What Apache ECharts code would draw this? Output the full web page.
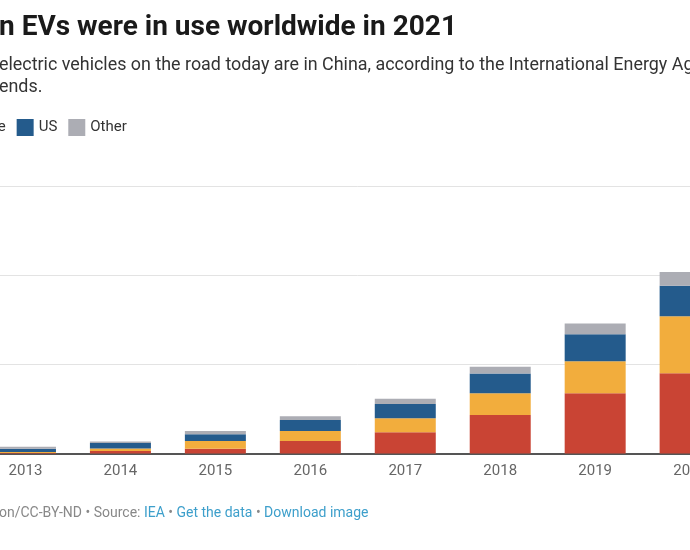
<!DOCTYPE html>
<html>
<head>
<meta charset="utf-8">
<script src="https://cdn.jsdelivr.net/npm/echarts@6/dist/echarts.min.js"></script>
<style>
html,body{margin:0;padding:0;width:690px;height:550px;overflow:hidden;background:#fff;}
#c{position:absolute;left:-200px;top:0;width:1000px;height:550px;}
</style>
</head>
<body>
<div id="c"></div>
<script>
// Data (millions of EVs)
const years = ['2013','2014','2015','2016','2017','2018','2019','2020'];
const china  = [0.03, 0.14, 0.27, 0.70, 1.19, 2.16, 3.38, 4.51];
const europe = [0.06, 0.14, 0.43, 0.56, 0.79, 1.22, 1.80, 3.20];
const us     = [0.17, 0.31, 0.38, 0.62, 0.80, 1.12, 1.52, 1.72];
const other  = [0.12, 0.09, 0.19, 0.21, 0.30, 0.37, 0.60, 0.77];
const seriesNames = ['China','Europe','US','Other'];
const yTicks = [0, 5, 10, 15];

const colors = ['#c94434','#f2ad3d','#245b8c','#acadb4'];
const OX = 200; // container offset
const chart = echarts.init(document.getElementById('c'), null, {renderer:'canvas'});
const FONT = 'Roboto, "Noto Sans", sans-serif';
const dataSets = [china, europe, us, other];

chart.setOption({
  animation:false,
  color: colors,
  textStyle:{fontFamily:FONT},
  legend:{
    data: seriesNames,
    left: OX - 139, top: 114,
    icon:'rect', itemWidth:17, itemHeight:17, itemGap:11,
    textStyle:{fontFamily:FONT, fontSize:15, color:'#333'}
  },
  grid:{left: OX - 22, right: 1000 - (OX - 22 + 8*94.95), top:186.5, bottom:96.5},
  xAxis:{
    type:'category', data: years,
    axisLine:{lineStyle:{color:'#555', width:2}},
    axisTick:{show:false},
    axisLabel:{fontFamily:FONT, fontSize:15, color:'#666', margin:10}
  },
  yAxis:{
    type:'value', min:yTicks[0], max:yTicks[yTicks.length-1], interval:5,
    axisLabel:{show:false},
    axisLine:{show:false}, axisTick:{show:false},
    splitLine:{lineStyle:{color:'#e3e3e3', width:1}}
  },
  series: seriesNames.map((n,i)=>({
    name:n, type:'bar', stack:'t', barWidth:61, data:dataSets[i]
  })),
  graphic:[
    {type:'text', left: OX - 1, top: 14, style:{text:'n EVs were in use worldwide in 2021', font:'bold 28px '+FONT, fill:'#1a1a1a'}},
    {type:'text', left: OX - 1, top: 57, style:{text:'electric vehicles on the road today are in China, according to the International Energy Agency', font:'17.9px '+FONT, fill:'#333'}},
    {type:'text', left: OX - 1, top: 79, style:{text:'ends.', font:'17.9px '+FONT, fill:'#333'}},
    {type:'text', left: OX - 1, top: 506, style:{
      text:'{g|on/CC-BY-ND • Source: }{b|IEA}{g| • }{b|Get the data}{g| • }{b|Download image}',
      font:'14px '+FONT,
      rich:{g:{fill:'#888', font:'14px '+FONT}, b:{fill:'#3d9fcb', font:'14px '+FONT}}
    }}
  ]
});
</script>
</body>
</html>
